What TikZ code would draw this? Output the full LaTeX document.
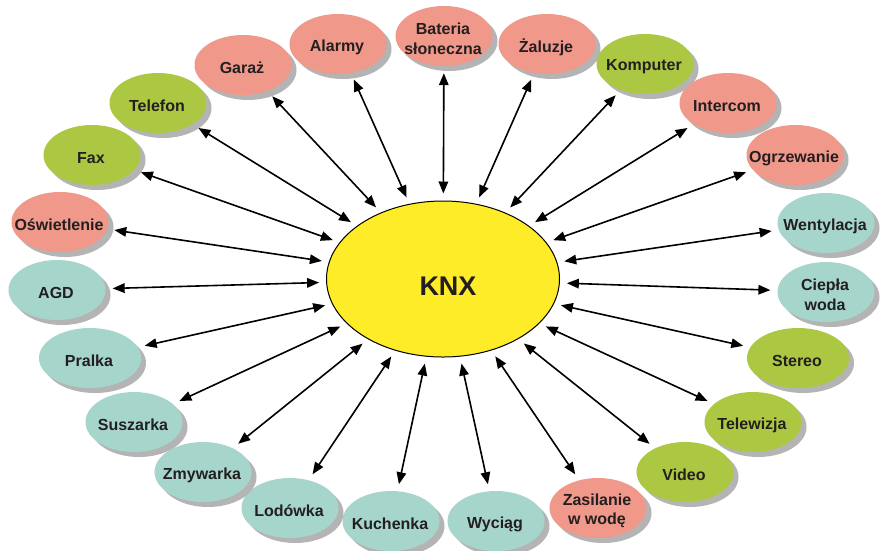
\documentclass[tikz,border=0pt]{standalone}
\usepackage{fontspec}
\setmainfont{Liberation Sans}
\usetikzlibrary{shapes.geometric,shadows,arrows.meta}
\definecolor{cpink}{RGB}{240,152,138}
\definecolor{cgreen}{RGB}{172,200,66}
\definecolor{cteal}{RGB}{166,213,203}
\definecolor{cyellow}{RGB}{255,236,40}
\definecolor{cshadow}{RGB}{180,180,180}
\definecolor{ctext}{RGB}{35,31,32}
\begin{document}
\begin{tikzpicture}[x=1pt,y=-1pt,
  dev/.style={ellipse, minimum width=97pt, minimum height=60pt, inner sep=0pt,
    drop shadow={shadow xshift=5pt, shadow yshift=-5pt, fill=cshadow, opacity=1}},
  lab/.style={font=\fontsize{16}{19.5}\selectfont\bfseries, text=ctext, align=center, inner sep=0pt, yshift=-3pt, xshift=-1pt},
  pinkdev/.style={dev, fill=cpink},
  greendev/.style={dev, fill=cgreen},
  tealdev/.style={dev, fill=cteal},
  link/.style={arrows={Triangle[length=12pt,width=9.5pt]-Triangle[length=12pt,width=9.5pt]},
    line width=1.6pt, draw=black, shorten <=7pt, shorten >=7pt}]
\fill[white] (0,0) rectangle (890,550);
\useasboundingbox (0,0) rectangle (890,550);

\node[ellipse, draw=black, line width=1pt, fill=cyellow, minimum width=233pt, minimum height=156pt,
  label={[font=\fontsize{27}{30}\selectfont\bfseries, text=ctext, inner sep=0pt, xshift=5pt, yshift=-7pt]center:KNX}] (knx) at (443,279) {};

\node[pinkdev, label={[lab]center:Bateria\\słoneczna}] (bat) at (444,36) {};
\node[pinkdev, label={[lab]center:Żaluzje}] (zal) at (547,44) {};
\node[greendev, label={[lab]center:Komputer}] (kom) at (645,64) {};
\node[pinkdev, label={[lab]center:Intercom}] (int) at (728,103) {};
\node[pinkdev, label={[lab]center:Ogrzewanie}] (ogr) at (795,155) {};
\node[tealdev, label={[lab]center:Wentylacja}] (wen) at (826,223) {};
\node[tealdev, label={[lab]center:Ciepła\\woda}] (cie) at (826,292) {};
\node[greendev, minimum width=102pt, label={[lab]center:Stereo}] (ste) at (798,358) {};
\node[greendev, label={[lab]center:Telewizja}] (tel) at (753,422) {};
\node[greendev, label={[lab]center:Video}] (vid) at (685,472) {};
\node[pinkdev, label={[lab]center:Zasilanie\\w wodę}] (zas) at (598,508) {};
\node[tealdev, label={[lab]center:Wyciąg}] (wyc) at (496,521) {};
\node[tealdev, label={[lab]center:Kuchenka}] (kuc) at (391,521) {};
\node[tealdev, label={[lab]center:Lodówka}] (lod) at (290,508) {};
\node[tealdev, label={[lab]center:Zmywarka}] (zmy) at (203,472) {};
\node[tealdev, label={[lab]center:Suszarka}] (sus) at (134,422) {};
\node[tealdev, minimum width=102pt, label={[lab]center:Pralka}] (pra) at (90,358) {};
\node[tealdev, label={[lab]center:AGD}] (agd) at (57,290) {};
\node[pinkdev, label={[lab]center:Oświetlenie}] (osw) at (60,222) {};
\node[greendev, label={[lab]center:Fax}] (fax) at (92,155) {};
\node[greendev, label={[lab]center:Telefon}] (tfn) at (158,103) {};
\node[pinkdev, label={[lab]center:Garaż}] (gar) at (243,65) {};
\node[pinkdev, label={[lab]center:Alarmy}] (ala) at (338,44) {};

\foreach \n in {bat,zal,kom,int,ogr,wen,cie,ste,tel,vid,zas,wyc,kuc,lod,zmy,sus,pra,agd,osw,fax,tfn,gar,ala}
  \draw[link] (\n) -- (knx);
\end{tikzpicture}
\end{document}
